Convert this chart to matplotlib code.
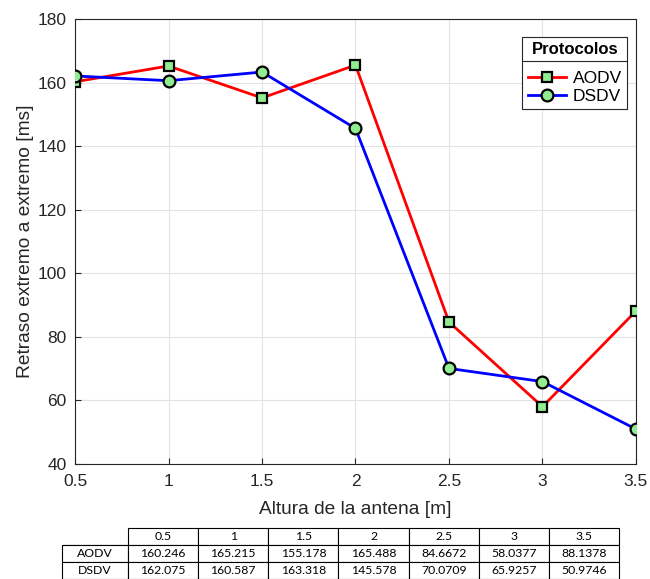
import matplotlib
matplotlib.use("Agg")
import matplotlib.pyplot as plt
from matplotlib.lines import Line2D

# Data
alturas = [0.5, 1, 1.5, 2, 2.5, 3, 3.5]
aodv = [160.246, 165.215, 155.178, 165.488, 84.6672, 58.0377, 88.1378]
dsdv = [162.075, 160.587, 163.318, 145.578, 70.0709, 65.9257, 50.9746]
col_labels = ["0.5", "1", "1.5", "2", "2.5", "3", "3.5"]
row_labels = ["AODV", "DSDV"]

plt.rcParams['font.family'] = ['Liberation Sans', 'DejaVu Sans']

fig = plt.figure(figsize=(6.5, 5.79), dpi=100)
ax = fig.add_axes([0.1154, 0.1986, 0.863, 0.7686])

green = '#90EE90'
ax.plot(alturas, aodv, color='red', lw=2, marker='s', ms=7,
        mfc=green, mec='black', mew=1.6, label='AODV', zorder=3)
ax.plot(alturas, dsdv, color='blue', lw=2, marker='o', ms=8.5,
        mfc=green, mec='black', mew=1.6, label='DSDV', zorder=3)

ax.set_xlim(0.5, 3.5)
ax.set_ylim(40, 180)
ax.set_xticks(alturas)
ax.set_xticklabels(col_labels)
ax.set_yticks(range(40, 181, 20))
ax.grid(True, color='#e3e3e3', lw=0.8)
ax.set_axisbelow(True)
ax.tick_params(direction='in', labelsize=12.5, length=4, colors='#262626')
ax.tick_params(axis='x', pad=7)
ax.tick_params(axis='y', pad=6)
for s in ax.spines.values():
    s.set_color('#262626')
    s.set_linewidth(0.8)
ax.set_xlabel("Altura de la antena [m]", fontsize=13.8, color='#262626', labelpad=9)
ax.set_ylabel("Retraso extremo a extremo [ms]", fontsize=13.8, color='#262626', labelpad=3)

leg = ax.legend(loc='upper right', title='Protocolos', fontsize=12.5,
                title_fontproperties={'weight': 'bold', 'size': 12},
                fancybox=False, edgecolor='#262626', framealpha=1,
                handlelength=2.2, borderaxespad=0.5, borderpad=0.3,
                handletextpad=0.4, labelspacing=0.15,
                bbox_to_anchor=(1.0, 0.98))
leg.get_frame().set_linewidth(0.8)
leg._legend_box.sep = 10

# Separator line under the legend title
fig.canvas.draw()
fb = leg.get_frame().get_window_extent()
tb = leg.get_title().get_window_extent()
yline = tb.y0 - 4
inv = fig.transFigure.inverted()
x0, y0 = inv.transform((fb.x0, yline))
x1, _ = inv.transform((fb.x1, yline))
fig.add_artist(Line2D([x0, x1], [y0, y0], color='#262626', lw=0.8,
                      transform=fig.transFigure, zorder=10))

# Table with values
tax = fig.add_axes([0.0954, 0.0, 0.857, 0.088])
tax.axis('off')
cells = [[row_labels[0]] + [f"{v:g}" for v in aodv],
         [row_labels[1]] + [f"{v:g}" for v in dsdv]]
n = len(col_labels)
w_lab = 66 / 557
w_col = (1 - w_lab) / n
tbl = tax.table(cellText=cells, colLabels=[""] + col_labels,
                cellLoc='center', bbox=[0, 0, 1, 1],
                colWidths=[w_lab] + [w_col] * n)
tbl.auto_set_font_size(False)
for (r, c), cell in tbl.get_celld().items():
    cell.set_linewidth(0.8)
    cell.get_text().set_fontsize(8.8)
    cell.get_text().set_fontfamily('Lato')
    if r == 0 and c == 0:
        cell.visible_edges = 'B'

fig.savefig("out.png", dpi=100)
